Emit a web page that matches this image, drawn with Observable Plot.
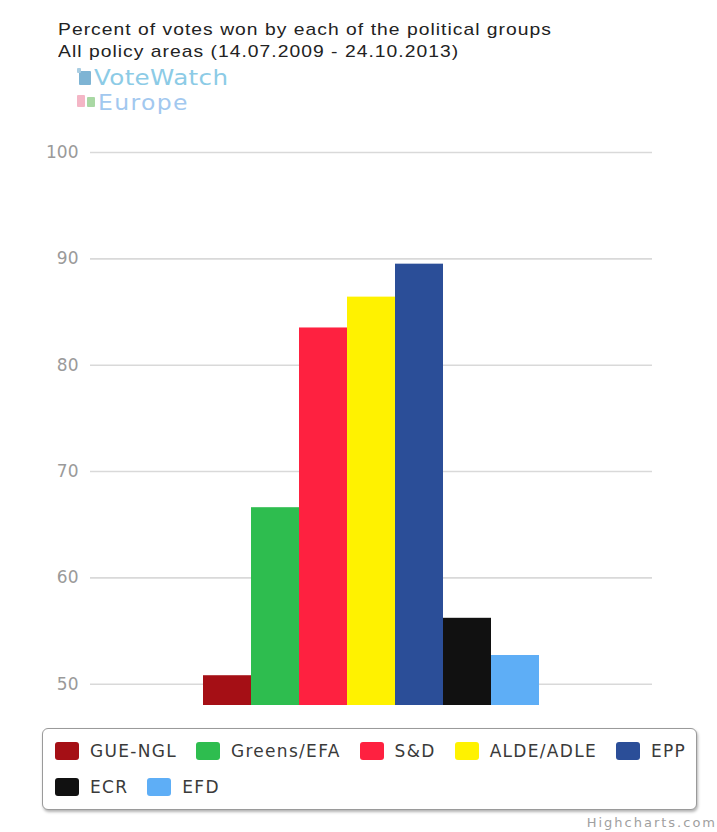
<!DOCTYPE html>
<html>
<head>
<meta charset="utf-8">
<script src="https://cdn.jsdelivr.net/npm/d3@7"></script>
<script src="https://cdn.jsdelivr.net/npm/@observablehq/plot@0.6"></script>
<style>
  html, body { margin: 0; padding: 0; background: #fff; }
  #page { position: relative; width: 717px; height: 832px; overflow: hidden; background: #fff; }
  #title { position: absolute; left: 58px; top: 19px; font-family: "Liberation Sans", Arial, sans-serif; font-size: 17px; line-height: 22px; color: #222; letter-spacing: 0.9px; white-space: nowrap; transform: scaleX(1.135); transform-origin: left top; }
  #logo { position: absolute; left: 77px; top: 66px; font-family: "DejaVu Sans", sans-serif; white-space: nowrap; }
  #logo .l1 { position: absolute; left: 17px; top: 1px; font-size: 21px; line-height: 22px; color: #8ccbe6; letter-spacing: 0.3px; transform: scaleX(1.17); transform-origin: left top; }
  #logo .l2 { position: absolute; left: 21px; top: 26px; font-size: 21px; line-height: 22px; color: #a2c8ef; letter-spacing: 1.2px; transform: scaleX(1.12); transform-origin: left top; }
  #logo .ic { position: absolute; border-radius: 1px; }
  #chart { position: absolute; left: 0; top: 130px; }
  #legend { position: absolute; left: 42px; top: 728px; width: 655px; height: 82px; border: 1.5px solid #9a9a9a; border-radius: 6px; box-shadow: 1px 2px 3px rgba(0,0,0,0.3); box-sizing: border-box; background: #fff; }
  .row { position: absolute; left: 12px; display: flex; align-items: center; font-family: "DejaVu Sans", sans-serif; font-size: 17px; color: #3a3a3a; letter-spacing: 1.3px; white-space: nowrap; }
  .item { display: flex; align-items: center; margin-right: 19px; }
  .sw { width: 24px; height: 18px; border-radius: 3px; margin-right: 11px; }
  #credit { position: absolute; right: 0px; top: 815px; font-family: "DejaVu Sans", sans-serif; font-size: 13px; color: #a0a0a0; letter-spacing: 2px; }
</style>
</head>
<body>
<div id="page">
  <div id="title"></div>
  <div id="logo">
    <div class="ic" style="left:2px;top:5px;background:#7eb4d4;width:12px;height:14px;"></div>
    <div class="ic" style="left:0;top:2px;background:#a9cde2;width:4px;height:5px;"></div>
    <div class="ic" style="left:0;top:29px;background:#f4b6c6;width:8px;height:12px;"></div>
    <div class="ic" style="left:10px;top:31px;background:#a9d8a4;width:8px;height:10px;"></div>
    <div class="l1">VoteWatch</div>
    <div class="l2">Europe</div>
  </div>
  <div id="chart"></div>
  <div id="legend"></div>
  <div id="credit">Highcharts.com</div>
</div>
<script>
const titleLines = ["Percent of votes won by each of the political groups", "All policy areas (14.07.2009 - 24.10.2013)"];
const groups = ["GUE-NGL", "Greens/EFA", "S&D", "ALDE/ADLE", "EPP", "ECR", "EFD"];
const values = [50.8, 66.6, 83.5, 86.4, 89.5, 56.2, 52.7];
const colors = ["#a50f15", "#2ebd4f", "#fe2140", "#fff200", "#2b4e98", "#111111", "#5eaef6"];
const yTicks = [50, 60, 70, 80, 90, 100];
const yDomain = [48, 100];
const legendRows = [5, 2];

document.getElementById("title").innerHTML = titleLines.map(t => `<div>${t}</div>`).join("");

const data = groups.map((g, i) => ({group: g, value: values[i]}));

const chart = Plot.plot({
  width: 717,
  height: 600,
  marginTop: 22,
  marginBottom: 25,
  marginLeft: 90,
  marginRight: 65,
  style: {background: "transparent"},
  x: {domain: groups, paddingInner: 0, paddingOuter: 7/3, axis: null},
  y: {domain: yDomain, label: null},
  color: {domain: groups, range: colors},
  marks: [
    Plot.ruleY(yTicks, {stroke: "#d9d9d9", strokeWidth: 1.6}),
    Plot.axisY({ticks: yTicks, tickSize: 0, tickPadding: 12, fontSize: 17, fill: "#9a9a9a", label: null, fontFamily: "DejaVu Sans"}),
    Plot.barY(data, {x: "group", y1: yDomain[0], y2: "value", fill: "group"})
  ]
});
chart.style.fontFamily = "DejaVu Sans";
document.getElementById("chart").appendChild(chart);

const legend = document.getElementById("legend");
let k = 0;
legendRows.forEach((n, r) => {
  const row = document.createElement("div");
  row.className = "row";
  row.style.top = (12 + r * 36) + "px";
  for (let j = 0; j < n; j++, k++) {
    const it = document.createElement("div");
    it.className = "item";
    it.innerHTML = `<div class="sw" style="background:${colors[k]}"></div><span>${groups[k].replace("&", "&amp;")}</span>`;
    row.appendChild(it);
  }
  legend.appendChild(row);
});
</script>
</body>
</html>
